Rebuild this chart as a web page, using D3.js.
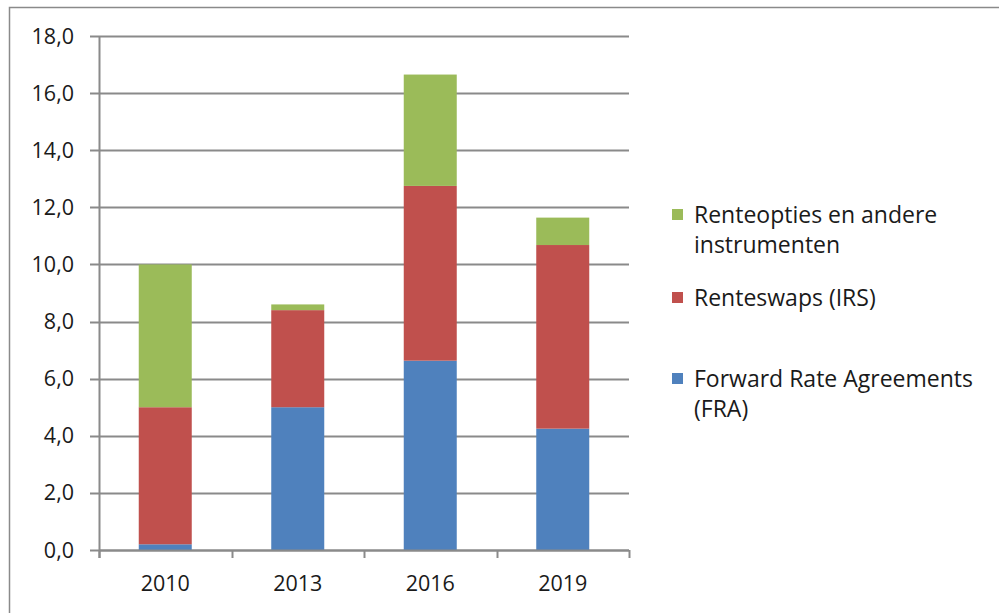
<!DOCTYPE html>
<html>
<head>
<meta charset="utf-8">
<script src="https://cdn.jsdelivr.net/npm/d3@7"></script>
<style>
  body { margin: 0; background: #fff; }
  svg { display: block; font-family: "Open Sans", sans-serif; }
</style>
</head>
<body>
<svg id="chart" width="999" height="613"></svg>
<script>
// Data
const years = ['2010', '2013', '2016', '2019'];
const fra = [0.2, 5.0, 6.63, 4.25];
const irs = [4.8, 3.4, 6.12, 6.43];
const opties = [5.0, 0.2, 3.9, 0.96];
const yTicks = [0, 2, 4, 6, 8, 10, 12, 14, 16, 18];

const series = [
    { key: 'fra', name: 'Forward Rate Agreements (FRA)', lines: ['Forward Rate Agreements', '(FRA)'], values: fra, color: '#4F81BD' },
    { key: 'irs', name: 'Renteswaps (IRS)', lines: ['Renteswaps (IRS)'], values: irs, color: '#C0504D' },
    { key: 'opt', name: 'Renteopties en andere instrumenten', lines: ['Renteopties en andere', 'instrumenten'], values: opties, color: '#9BBB59' }
];

const svg = d3.select('#chart');
const gridColor = '#8a8a8a';
const textColor = '#1a1a1a';

// Chart frame (only left and top edges visible)
svg.append('path')
    .attr('d', 'M9.5,613 V7.5 H999')
    .attr('fill', 'none')
    .attr('stroke', gridColor)
    .attr('stroke-width', 1.5);

const margin = { left: 99, right: 629, top: 36, bottom: 550 };

const x = d3.scaleBand()
    .domain(years)
    .range([margin.left, margin.right])
    .paddingInner(0.6)
    .paddingOuter(0.3);

const y = d3.scaleLinear()
    .domain([0, 18])
    .range([margin.bottom, margin.top]);

// Gridlines
svg.append('g')
    .selectAll('line')
    .data(yTicks)
    .enter().append('line')
    .attr('x1', margin.left - 9)
    .attr('x2', margin.right)
    .attr('y1', d => Math.round(y(d)) + 0.5)
    .attr('y2', d => Math.round(y(d)) + 0.5)
    .attr('stroke', gridColor)
    .attr('stroke-width', 2);

// Y axis labels
svg.append('g')
    .selectAll('text')
    .data(yTicks)
    .enter().append('text')
    .attr('x', 74)
    .attr('y', d => y(d))
    .attr('dy', '0.35em')
    .attr('text-anchor', 'end')
    .attr('font-size', 21.5)
    .attr('fill', textColor)
    .text(d => d3.format('.1f')(d).replace('.', ','));

// Stacked bars
const rows = years.map((yr, i) => {
    const r = { year: yr };
    series.forEach(s => { r[s.key] = s.values[i]; });
    return r;
});
const stack = d3.stack().keys(series.map(s => s.key));
const stacked = stack(rows);

svg.append('g')
    .selectAll('g')
    .data(stacked)
    .enter().append('g')
    .attr('fill', (d, i) => series[i].color)
    .selectAll('rect')
    .data(d => d)
    .enter().append('rect')
    .attr('x', d => x(d.data.year))
    .attr('width', x.bandwidth())
    .attr('y', d => y(d[1]))
    .attr('height', d => y(d[0]) - y(d[1]));

// Y axis line
svg.append('line')
    .attr('x1', margin.left + 0.5).attr('x2', margin.left + 0.5)
    .attr('y1', margin.top).attr('y2', margin.bottom + 8)
    .attr('stroke', gridColor)
    .attr('stroke-width', 2);

// X axis line & ticks
svg.append('line')
    .attr('x1', margin.left).attr('x2', margin.right)
    .attr('y1', margin.bottom + 0.5).attr('y2', margin.bottom + 0.5)
    .attr('stroke', gridColor)
    .attr('stroke-width', 2);

const tickX = d3.range(years.length + 1).map(i => margin.left + i * (margin.right - margin.left) / years.length);
svg.append('g')
    .selectAll('line')
    .data(tickX)
    .enter().append('line')
    .attr('x1', d => Math.round(d) + 0.5)
    .attr('x2', d => Math.round(d) + 0.5)
    .attr('y1', margin.bottom)
    .attr('y2', margin.bottom + 8)
    .attr('stroke', gridColor)
    .attr('stroke-width', 2);

// X labels
svg.append('g')
    .selectAll('text')
    .data(years)
    .enter().append('text')
    .attr('x', d => x(d) + x.bandwidth() / 2)
    .attr('y', 591)
    .attr('text-anchor', 'middle')
    .attr('font-size', 21.5)
    .attr('fill', textColor)
    .text(d => d);

// Legend (top to bottom: opties, irs, fra)
const legendItems = [
    { s: series[2], y: 223 },
    { s: series[1], y: 306 },
    { s: series[0], y: 387 }
];
const legend = svg.append('g');
legendItems.forEach(item => {
    legend.append('rect')
        .attr('x', 672)
        .attr('y', item.y - 14)
        .attr('width', 11)
        .attr('height', 11)
        .attr('fill', item.s.color);
    item.s.lines.forEach((ln, j) => {
        legend.append('text')
            .attr('x', 694)
            .attr('y', item.y + j * 30)
            .attr('font-size', 23)
            .attr('fill', textColor)
            .text(ln);
    });
});
</script>
</body>
</html>
